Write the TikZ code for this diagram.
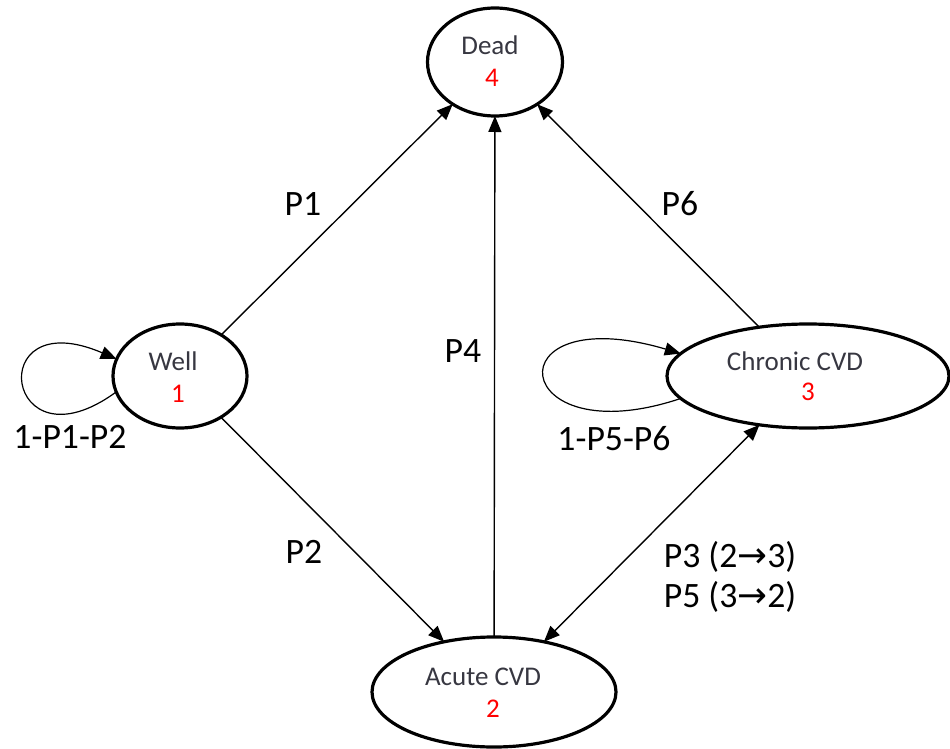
\documentclass[tikz,border=0pt]{standalone}
\usepackage{fontspec}
\setmainfont{Carlito}
\newfontfamily\symfont{DejaVu Sans}
\usetikzlibrary{shapes.geometric,arrows.meta}
\definecolor{nodetxt}{RGB}{55,55,65}
\definecolor{numred}{RGB}{255,0,0}
\begin{document}
\begin{tikzpicture}[x=1pt,y=-1pt,
  state/.style={ellipse,draw,line width=3.2pt,inner sep=0pt,outer sep=0pt},
  stxt/.style={font=\fontsize{27}{30}\selectfont,text=nodetxt,inner sep=0pt,anchor=base},
  snum/.style={font=\fontsize{27}{30}\selectfont,text=numred,inner sep=0pt,anchor=base},
  elabel/.style={font=\fontsize{35.7}{40}\selectfont,inner sep=0pt,anchor=base},
  conn/.style={line width=1.4pt,-{Triangle[length=16pt,width=13pt]}},
  loopconn/.style={line width=1.2pt,-{Triangle[length=16pt,width=13pt]}},
  bothconn/.style={line width=1.4pt,{Triangle[length=16pt,width=13pt]}-{Triangle[length=16pt,width=13pt]}},
]
\useasboundingbox (0,0) rectangle (950,749);
\fill[white] (0,0) rectangle (950,749);
% states
\node[state,minimum width=135pt,minimum height=108pt] (dead) at (495,62) {};
\node[state,minimum width=134pt,minimum height=104pt] (well) at (180,376) {};
\node[state,minimum width=282pt,minimum height=104pt] (chronic) at (808,376) {};
\node[state,minimum width=244pt,minimum height=110pt] (acute) at (494,692) {};
% state texts
\node[stxt] (deadname) at (490,55) {Dead};
\node[snum] (deadnum) at (492,87) {4};
\node[stxt] (wellname) at (173,370) {Well};
\node[snum] (wellnum) at (178,402) {1};
\node[stxt] (chronicname) at (795,370) {Chronic CVD};
\node[snum] (chronicnum) at (808,400) {3};
\node[stxt] (acutename) at (483,685) {Acute CVD};
\node[snum] (acutenum) at (493,717) {2};
% connectors
\draw[conn] (well) -- (dead);
\draw[conn] (well) -- (acute);
\draw[conn] (acute) -- (dead);
\draw[conn] (chronic) -- (dead);
\draw[bothconn] (acute) -- (chronic);
\draw[loopconn] (well.194) .. controls +(-112,82) and +(-135,-58) .. (well.165);
\draw[loopconn] (chronic.190) .. controls +(-173,58) and +(-190,-56) .. (chronic.170);
% edge labels
\node[elabel] (lp1) at (303,215) {P1};
\node[elabel] (lp2) at (304,563) {P2};
\node[elabel] (lp4) at (463,362) {P4};
\node[elabel] (lp6) at (680,215) {P6};
\node[elabel] (lwell) at (70,448) {1-P1-P2};
\node[elabel] (lchronic) at (614,450) {1-P5-P6};
\node[elabel] (lp3) at (730,567) {P3 (2{\symfont→}3)};
\node[elabel] (lp5) at (730,607) {P5 (3{\symfont→}2)};
\end{tikzpicture}
\end{document}
